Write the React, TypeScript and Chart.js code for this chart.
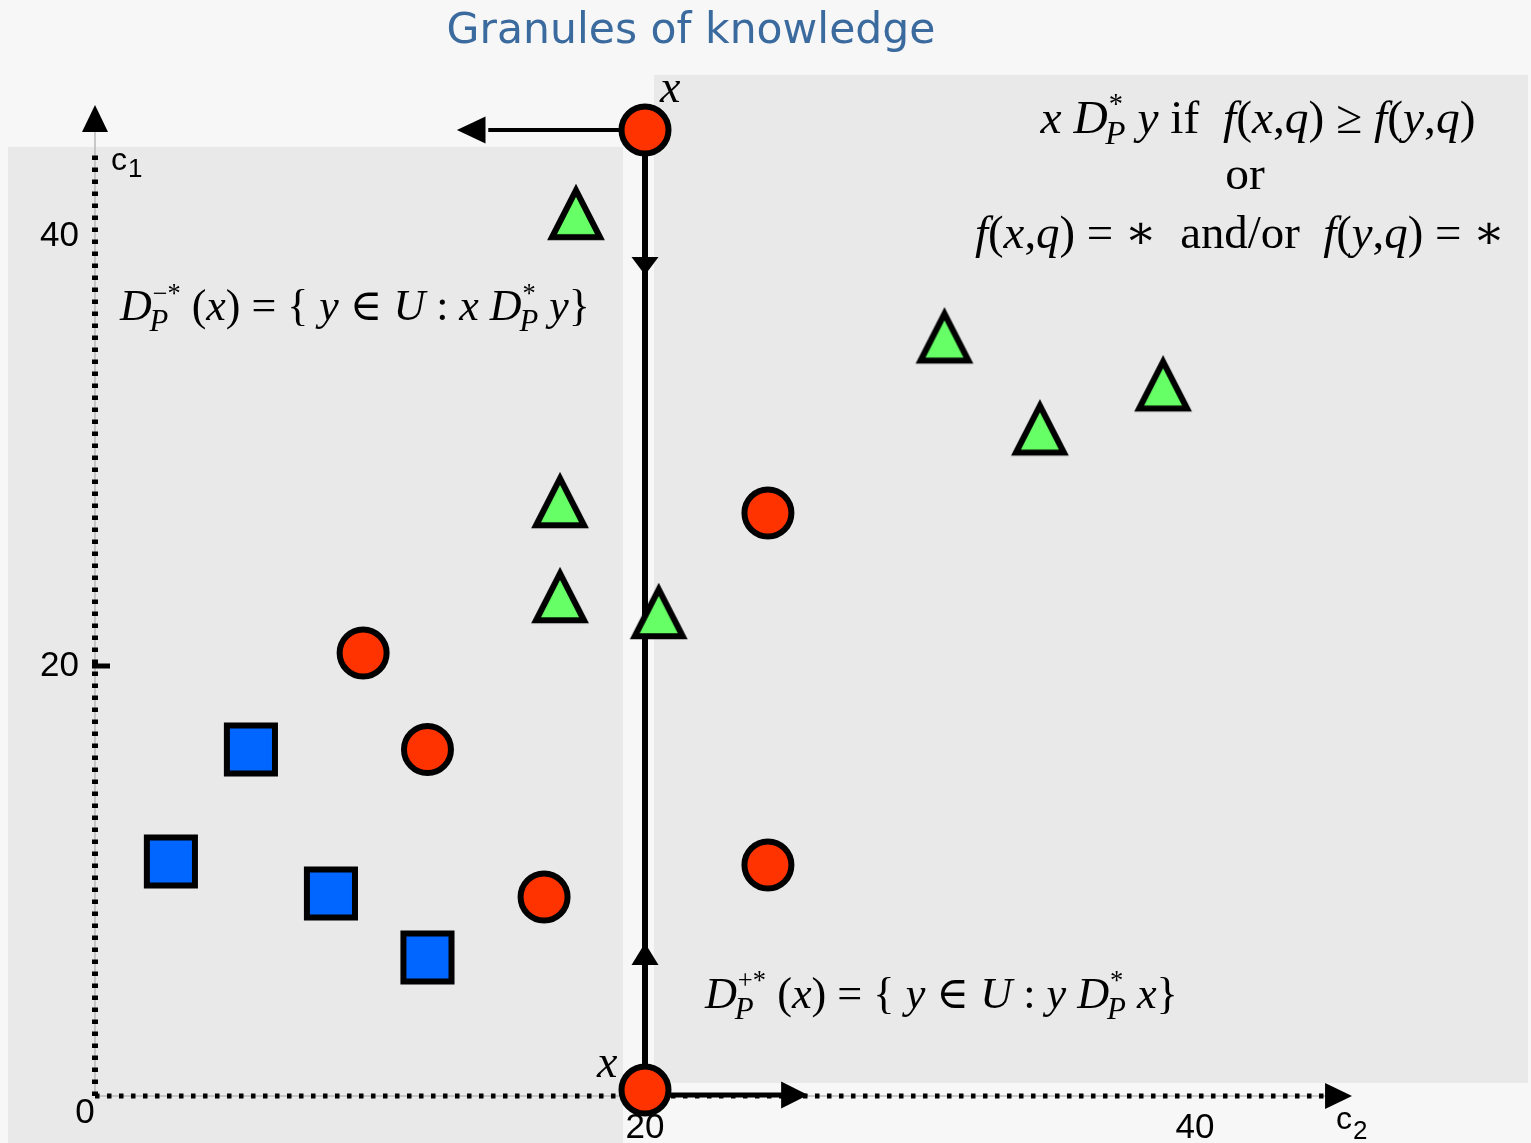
import React, { useEffect, useRef } from 'react';
import { Chart, registerables } from 'chart.js';

Chart.register(...registerables);

const W = 1531;
const H = 1143;

// ---------- data ----------
const redCircles = [
  { x: 20, y: 44.93 },
  { x: 20, y: 0.28 },
  { x: 24.47, y: 27.12 },
  { x: 9.75, y: 20.6 },
  { x: 12.09, y: 16.12 },
  { x: 16.33, y: 9.26 },
  { x: 24.47, y: 10.74 },
];
const greenTriangles = [
  { x: 17.49, y: 41.12 },
  { x: 30.89, y: 35.38 },
  { x: 34.36, y: 31.1 },
  { x: 38.84, y: 33.15 },
  { x: 16.91, y: 27.72 },
  { x: 16.91, y: 23.3 },
  { x: 20.5, y: 22.56 },
];
const blueSquares = [
  { x: 5.67, y: 16.12 },
  { x: 2.76, y: 10.91 },
  { x: 8.58, y: 9.42 },
  { x: 12.09, y: 6.44 },
];
const dominanceLine = [
  { x: 20, y: 44.93 },
  { x: 20, y: 0.28 },
];
const leftArrowShaft = [
  { x: 20, y: 44.93 },
  { x: 14.3, y: 44.93 },
];
const rightArrowShaft = [
  { x: 20, y: 0.05 },
  { x: 25.1, y: 0.05 },
];
const lineArrowHeads = [
  { tip: { x: 13.16, y: 44.93 }, base: { x: 14.2, y: 44.93 } },
  { tip: { x: 25.93, y: 0.05 }, base: { x: 24.95, y: 0.05 } },
  { tip: { x: 20, y: 38.19 }, base: { x: 20, y: 39.02 } },
  { tip: { x: 20, y: 7.12 }, base: { x: 20, y: 6.09 } },
];
const yAxisArrow = { tip: { x: 0, y: 46.09 }, base: { x: 0, y: 44.84 } };
const xAxisArrow = { tip: { x: 45.71, y: 0 }, base: { x: 44.73, y: 0 } };
const yDotsEnd = 44.0;
const yTickMarkValues = [20];
const xTickValues = [20, 40];
const xTickLabels = ['20', '40'];
const yTickValues = [20, 40];
const yTickLabels = ['20', '40'];
const originLabel = '0';
const X_MIN = 0;
const X_MAX = 46;
const Y_MIN = 0;
const Y_MAX = 46;

const titleText = 'Granules of knowledge';

// ---------- styles ----------
const RED = '#ff3300';
const GREEN = '#66ff66';
const BLUE = '#0066ff';
const SERIF = '"Liberation Serif", "Times New Roman", "DejaVu Serif", serif';
const SANS = '"Liberation Sans", Arial, sans-serif';

type Seg = { t: string; it?: boolean; sup?: string; sub?: string };

const ruleLine1: Seg[] = [
  { t: 'x', it: true }, { t: ' ' }, { t: 'D', it: true, sup: '*', sub: 'P' }, { t: ' y', it: true },
  { t: ' if  ' }, { t: 'f', it: true }, { t: '(' }, { t: 'x', it: true }, { t: ',' }, { t: 'q', it: true },
  { t: ') ≥ ' }, { t: 'f', it: true }, { t: '(' }, { t: 'y', it: true }, { t: ',' }, { t: 'q', it: true }, { t: ')' },
];
const ruleLine2: Seg[] = [{ t: 'or' }];
const ruleLine3: Seg[] = [
  { t: 'f', it: true }, { t: '(' }, { t: 'x', it: true }, { t: ',' }, { t: 'q', it: true },
  { t: ') = ∗  and/or  ' }, { t: 'f', it: true }, { t: '(' }, { t: 'y', it: true }, { t: ',' },
  { t: 'q', it: true }, { t: ') = ∗' },
];
const lowerCone: Seg[] = [
  { t: 'D', it: true, sup: '−*', sub: 'P' }, { t: ' (' }, { t: 'x', it: true }, { t: ') = { ' },
  { t: 'y', it: true }, { t: ' ∈ ' }, { t: 'U', it: true }, { t: ' : ' }, { t: 'x', it: true }, { t: ' ' },
  { t: 'D', it: true, sup: '*', sub: 'P' }, { t: ' ' }, { t: 'y', it: true }, { t: '}' },
];
const upperCone: Seg[] = [
  { t: 'D', it: true, sup: '+*', sub: 'P' }, { t: ' (' }, { t: 'x', it: true }, { t: ') = { ' },
  { t: 'y', it: true }, { t: ' ∈ ' }, { t: 'U', it: true }, { t: ' : ' }, { t: 'y', it: true }, { t: ' ' },
  { t: 'D', it: true, sup: '*', sub: 'P' }, { t: ' ' }, { t: 'x', it: true }, { t: '}' },
];

const SUP_SCALE = 0.6;
const SUB_SCALE = 0.7;

function fnt(it: boolean, size: number) {
  return `${it ? 'italic ' : ''}${size}px ${SERIF}`;
}
function segAdvance(ctx: CanvasRenderingContext2D, s: Seg, size: number) {
  ctx.font = fnt(!!s.it, size);
  let w = ctx.measureText(s.t).width;
  if (s.sup || s.sub) {
    ctx.font = fnt(false, size * SUP_SCALE);
    const a = s.sup ? ctx.measureText(s.sup).width + size * 0.02 : 0;
    ctx.font = fnt(true, size * SUB_SCALE);
    const b = s.sub ? ctx.measureText(s.sub).width - size * 0.05 : 0;
    w += Math.max(a, b);
  }
  return w;
}
function mathWidth(ctx: CanvasRenderingContext2D, segs: Seg[], size: number) {
  let w = 0;
  for (const s of segs) w += segAdvance(ctx, s, size);
  return w;
}
function drawMath(ctx: CanvasRenderingContext2D, segs: Seg[], x: number, y: number, size: number) {
  let cx = x;
  ctx.textAlign = 'left';
  ctx.textBaseline = 'alphabetic';
  for (const s of segs) {
    ctx.font = fnt(!!s.it, size);
    ctx.fillText(s.t, cx, y);
    const tw = ctx.measureText(s.t).width;
    if (s.sup) {
      ctx.font = fnt(false, size * SUP_SCALE);
      ctx.fillText(s.sup, cx + tw + size * 0.02, y - size * 0.42);
    }
    if (s.sub) {
      ctx.font = fnt(true, size * SUB_SCALE);
      ctx.fillText(s.sub, cx + tw - size * 0.05, y + size * 0.24);
    }
    cx += segAdvance(ctx, s, size);
  }
}
function fitSize(ctx: CanvasRenderingContext2D, segs: Seg[], target: number) {
  return (40 * target) / mathWidth(ctx, segs, 40);
}

function drawArrowHead(ctx: CanvasRenderingContext2D, tx: number, ty: number, bx: number, by: number, half: number) {
  const dx = tx - bx;
  const dy = ty - by;
  const len = Math.hypot(dx, dy) || 1;
  const px = -dy / len;
  const py = dx / len;
  ctx.beginPath();
  ctx.moveTo(tx, ty);
  ctx.lineTo(bx + px * half, by + py * half);
  ctx.lineTo(bx - px * half, by - py * half);
  ctx.closePath();
  ctx.fill();
}

function makeTriangle(): HTMLCanvasElement {
  const c = document.createElement('canvas');
  c.width = 64;
  c.height = 64;
  const g = c.getContext('2d')!;
  g.beginPath();
  g.moveTo(32, 10.3);
  g.lineTo(56, 57.3);
  g.lineTo(8, 57.3);
  g.closePath();
  g.fillStyle = GREEN;
  g.fill();
  g.lineJoin = 'miter';
  g.lineWidth = 6;
  g.strokeStyle = '#000';
  g.stroke();
  return c;
}

const decorPlugin = {
  id: 'decor',
  beforeDraw(chart: any) {
    const ctx: CanvasRenderingContext2D = chart.ctx;
    ctx.save();
    ctx.fillStyle = '#f7f7f7';
    ctx.fillRect(0, 0, W, H);
    ctx.fillStyle = '#e9e9e9';
    ctx.fillRect(8, 147, 615, H - 147);
    ctx.fillRect(654, 75, 874, 1008);
    // title
    ctx.font = `40px "DejaVu Sans", Verdana, sans-serif`;
    const tw = ctx.measureText(titleText).width;
    const ts = (40 * 489) / tw;
    ctx.font = `${ts}px "DejaVu Sans", Verdana, sans-serif`;
    ctx.fillStyle = '#3a6a9e';
    ctx.textAlign = 'center';
    ctx.textBaseline = 'alphabetic';
    ctx.fillText(titleText, 691, 43);
    ctx.restore();
  },
  beforeDatasetsDraw(chart: any) {
    const ctx: CanvasRenderingContext2D = chart.ctx;
    const xs = chart.scales.x;
    const ys = chart.scales.y;
    const ox = xs.getPixelForValue(0);
    const oy = ys.getPixelForValue(0);
    ctx.save();
    ctx.strokeStyle = '#b8b8b8';
    ctx.lineWidth = 1.5;
    ctx.beginPath();
    ctx.moveTo(ox, oy);
    ctx.lineTo(ox, ys.getPixelForValue(yAxisArrow.base.y));
    ctx.stroke();
    ctx.beginPath();
    ctx.moveTo(ox, oy);
    ctx.lineTo(xs.getPixelForValue(xAxisArrow.base.x), oy);
    ctx.stroke();
    ctx.strokeStyle = '#000';
    ctx.setLineDash([4.5, 7.5]);
    ctx.lineWidth = 6;
    ctx.beginPath();
    ctx.moveTo(ox, oy);
    ctx.lineTo(ox, ys.getPixelForValue(yDotsEnd));
    ctx.stroke();
    ctx.lineWidth = 5;
    ctx.beginPath();
    ctx.moveTo(ox, oy);
    ctx.lineTo(xs.getPixelForValue(xAxisArrow.base.x), oy);
    ctx.stroke();
    ctx.setLineDash([]);
    // tick mark
    ctx.lineWidth = 5;
    for (const v of yTickMarkValues) {
      const py = ys.getPixelForValue(v);
      ctx.beginPath();
      ctx.moveTo(ox - 3, py);
      ctx.lineTo(ox + 15, py);
      ctx.stroke();
    }
    ctx.fillStyle = '#000';
    drawArrowHead(ctx, xs.getPixelForValue(yAxisArrow.tip.x), ys.getPixelForValue(yAxisArrow.tip.y),
      xs.getPixelForValue(yAxisArrow.base.x), ys.getPixelForValue(yAxisArrow.base.y), 13);
    drawArrowHead(ctx, xs.getPixelForValue(xAxisArrow.tip.x), ys.getPixelForValue(xAxisArrow.tip.y),
      xs.getPixelForValue(xAxisArrow.base.x), ys.getPixelForValue(xAxisArrow.base.y), 13);
    // origin label
    ctx.font = `35px ${SANS}`;
    ctx.textAlign = 'center';
    ctx.textBaseline = 'alphabetic';
    ctx.fillText(originLabel, ox - 10, oy + 27);
    // axis names
    ctx.textAlign = 'left';
    ctx.font = `32px ${SANS}`;
    ctx.fillText('c', 111, 170);
    let cw = ctx.measureText('c').width;
    ctx.font = `26px ${SANS}`;
    ctx.fillText('1', 111 + cw + 1, 177);
    ctx.font = `32px ${SANS}`;
    ctx.fillText('c', 1336, 1129);
    cw = ctx.measureText('c').width;
    ctx.font = `26px ${SANS}`;
    ctx.fillText('2', 1336 + cw + 1, 1139);
    ctx.restore();
  },
  afterDatasetsDraw(chart: any) {
    const ctx: CanvasRenderingContext2D = chart.ctx;
    const xs = chart.scales.x;
    const ys = chart.scales.y;
    ctx.save();
    ctx.fillStyle = '#000';
    for (const a of lineArrowHeads) {
      drawArrowHead(ctx, xs.getPixelForValue(a.tip.x), ys.getPixelForValue(a.tip.y),
        xs.getPixelForValue(a.base.x), ys.getPixelForValue(a.base.y), 13.5);
    }
    // x labels on the object
    ctx.font = fnt(true, 46);
    ctx.textAlign = 'left';
    ctx.textBaseline = 'alphabetic';
    ctx.fillText('x', 660, 102);
    ctx.fillText('x', 597, 1077);
    // formulas
    const s1 = fitSize(ctx, ruleLine1, 435);
    drawMath(ctx, ruleLine1, 1258 - mathWidth(ctx, ruleLine1, s1) / 2, 133, s1);
    drawMath(ctx, ruleLine2, 1245 - mathWidth(ctx, ruleLine2, s1) / 2, 189, s1);
    const s3 = fitSize(ctx, ruleLine3, 530);
    drawMath(ctx, ruleLine3, 975, 248, s3);
    const s4 = fitSize(ctx, lowerCone, 470);
    drawMath(ctx, lowerCone, 120, 320, s4);
    const s5 = fitSize(ctx, upperCone, 473);
    drawMath(ctx, upperCone, 705, 1008, s5);
    ctx.restore();
  },
};

export default function App() {
  const ref = useRef<HTMLCanvasElement | null>(null);
  useEffect(() => {
    if (!ref.current) return;
    const tri = makeTriangle();
    const tickFont = { family: '"Liberation Sans", Arial, sans-serif', size: 35 };
    const chart = new Chart(ref.current, {
      type: 'scatter',
      data: {
        datasets: [
          {
            label: 'red',
            data: redCircles,
            pointStyle: 'circle',
            pointRadius: 23.5,
            pointBorderWidth: 6,
            pointBackgroundColor: RED,
            pointBorderColor: '#000',
            clip: false,
          } as any,
          {
            label: 'green',
            data: greenTriangles,
            pointStyle: tri,
            pointRadius: 30,
            clip: false,
          } as any,
          {
            label: 'blue',
            data: blueSquares,
            pointStyle: 'rect',
            pointRadius: 34,
            pointBorderWidth: 6,
            pointBackgroundColor: BLUE,
            pointBorderColor: '#000',
            clip: false,
          } as any,
          {
            label: 'line',
            data: dominanceLine,
            showLine: true,
            borderColor: '#000',
            borderWidth: 6,
            pointRadius: 0,
            clip: false,
          } as any,
          {
            label: 'leftShaft',
            data: leftArrowShaft,
            showLine: true,
            borderColor: '#000',
            borderWidth: 4,
            pointRadius: 0,
            clip: false,
          } as any,
          {
            label: 'rightShaft',
            data: rightArrowShaft,
            showLine: true,
            borderColor: '#000',
            borderWidth: 5,
            pointRadius: 0,
            clip: false,
          } as any,
        ],
      },
      options: {
        responsive: false,
        animation: false,
        devicePixelRatio: 1,
        layout: { padding: { left: 0, top: 107, right: 171, bottom: 0 }, autoPadding: false } as any,
        plugins: {
          legend: { display: false },
          tooltip: { enabled: false },
          title: { display: false },
        },
        scales: {
          x: {
            type: 'linear',
            min: X_MIN,
            max: X_MAX,
            grid: { display: false, drawTicks: false },
            border: { display: false },
            ticks: {
              font: tickFont,
              color: '#000',
              padding: 11,
              maxRotation: 0,
              autoSkip: false,
              callback: (v: any) => {
                const i = xTickValues.indexOf(Number(v));
                return i >= 0 ? xTickLabels[i] : '';
              },
            },
            afterBuildTicks: (s: any) => {
              s.ticks = xTickValues.map((v) => ({ value: v }));
            },
            afterFit: (s: any) => {
              s.height = 47;
            },
          },
          y: {
            type: 'linear',
            min: Y_MIN,
            max: Y_MAX,
            grid: { display: false, drawTicks: false },
            border: { display: false },
            ticks: {
              font: tickFont,
              color: '#000',
              padding: 16,
              autoSkip: false,
              callback: (v: any) => {
                const i = yTickValues.indexOf(Number(v));
                return i >= 0 ? yTickLabels[i] : '';
              },
            },
            afterBuildTicks: (s: any) => {
              s.ticks = yTickValues.map((v) => ({ value: v }));
            },
            afterFit: (s: any) => {
              s.width = 95;
            },
          },
        },
      } as any,
      plugins: [decorPlugin as any],
    });
    return () => chart.destroy();
  }, []);
  return (
    <div style={{ position: 'absolute', left: 0, top: 0, width: W, height: H }}>
      <canvas ref={ref} width={W} height={H} style={{ display: 'block', width: W, height: H }} />
    </div>
  );
}
